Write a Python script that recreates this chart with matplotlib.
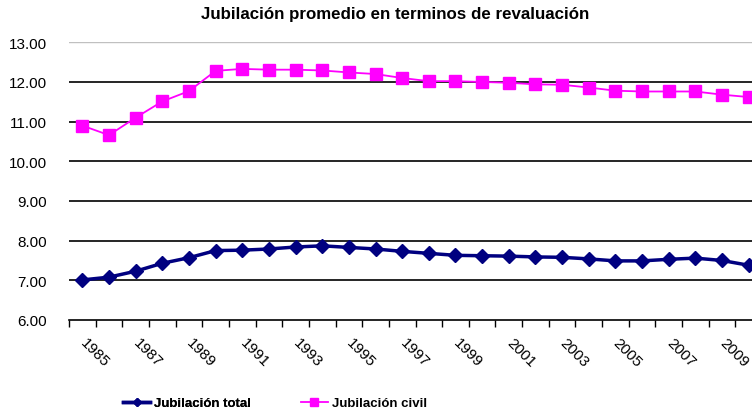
import matplotlib.pyplot as plt
from matplotlib.transforms import ScaledTranslation
import numpy as np

plt.rcParams['font.family'] = ['Liberation Sans', 'DejaVu Sans']

years = list(range(1985, 2011))
jub_total = [7.01, 7.08, 7.23, 7.43, 7.57, 7.75, 7.76, 7.79, 7.84, 7.87, 7.83, 7.79, 7.73,
             7.68, 7.63, 7.62, 7.61, 7.59, 7.58, 7.54, 7.49, 7.49, 7.53, 7.56, 7.50, 7.38]
jub_civil = [10.90, 10.66, 11.10, 11.51, 11.77, 12.28, 12.33, 12.31, 12.31, 12.29, 12.24, 12.20, 12.10,
             12.02, 12.02, 12.00, 11.98, 11.94, 11.93, 11.86, 11.78, 11.76, 11.76, 11.76, 11.68, 11.62]

fig = plt.figure(figsize=(7.52, 4.14), dpi=100)
ax = fig.add_axes([69 / 752, 1 - 321 / 414, 693 / 752, (321 - 43.3) / 414])

x = np.arange(len(years))
l1, = ax.plot(x, jub_total, color='#000080', lw=2.5, marker='D', ms=7.5, label='Jubilación total', zorder=3)
l2, = ax.plot(x, jub_civil, color='#FF00FF', lw=1.3, marker='s', ms=8.5, label='Jubilación civil', zorder=3)

ax.set_ylim(6, 13)
ax.set_xlim(-0.5, len(years) - 0.5)
ax.set_yticks(np.arange(6, 14, 1))
ax.set_yticklabels([f'{v:.2f}' for v in range(6, 14)], fontsize=11)
for v in range(7, 13):
    ax.axhline(v, color='black', lw=1.2, zorder=1)
ax.axhline(13, color='#c0c0c0', lw=1, zorder=1)

# category boundaries get the tick marks, every other year gets a slanted label
ax.set_xticks(np.arange(-0.5, len(years), 1))
ax.set_xticklabels([])
ax.tick_params(axis='x', length=5, width=1, color='black', direction='out')
ax.tick_params(axis='y', length=0, pad=16)
offset = ScaledTranslation(5 / 100, -15 / 100, fig.dpi_scale_trans)
for xi, yr in zip(x[::2], years[::2]):
    ax.text(xi, 0, str(yr), transform=ax.get_xaxis_transform() + offset, fontsize=11,
            rotation=-45, rotation_mode='anchor', ha='left', va='top', clip_on=False)

for s in ['top', 'right', 'left']:
    ax.spines[s].set_visible(False)
ax.spines['bottom'].set_color('black')
ax.spines['bottom'].set_linewidth(1.2)

fig.text(395 / 752, 1 - 15 / 414, 'Jubilación promedio en terminos de revaluación',
         ha='center', va='center', fontsize=12.2, fontweight='bold')

leg_kw = dict(loc='center', frameon=False, prop={'weight': 'bold', 'size': 9.5},
              handlelength=2.0, handletextpad=0.3, markerscale=0.6)
leg1 = fig.legend([l1], ['Jubilación total'], bbox_to_anchor=(187 / 752, 1 - 404 / 414), **leg_kw)
fig.add_artist(leg1)
fig.legend([l2], ['Jubilación civil'], bbox_to_anchor=(364 / 752, 1 - 404 / 414), **leg_kw)

fig.savefig('out.png', dpi=100)
